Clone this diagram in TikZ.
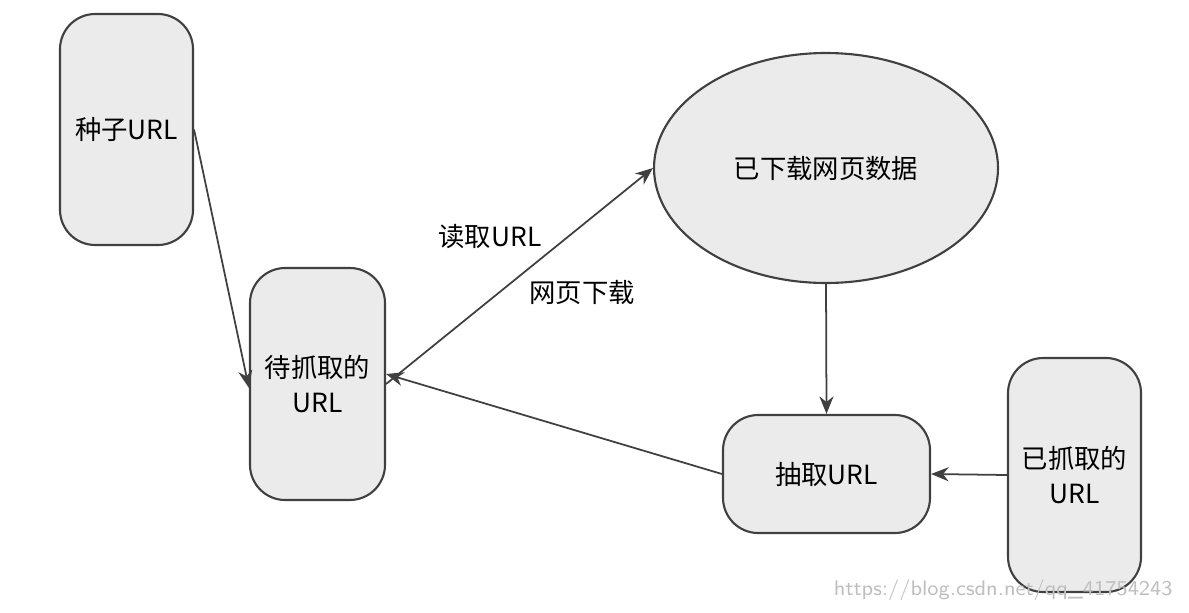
\documentclass[tikz,border=0pt]{standalone}
\usepackage{fontspec}
\setmainfont{Liberation Serif}
\newfontfamily\cjk{Noto Sans CJK SC}
\usetikzlibrary{arrows.meta,shapes.geometric}
\begin{document}
\begin{tikzpicture}[x=0.01cm,y=-0.01cm,
  box/.style={draw=black!75,fill=black!8,rounded corners=10pt,line width=0.6pt,align=center,font=\fontsize{7.5}{10}\selectfont\cjk},
  arr/.style={draw=black!75,line width=0.5pt,-{Stealth[length=5pt,width=4pt]}},
  lab/.style={font=\fontsize{7.5}{10}\selectfont\cjk}]
\useasboundingbox (0,0) rectangle (1189,612);
\node[box,minimum width=133*0.01cm,minimum height=231*0.01cm] (seed) at (126.5,129.5) {种子URL};
\node[box,minimum width=135*0.01cm,minimum height=232*0.01cm] (todo) at (317.5,384) {待抓取的\\URL};
\node[draw=black!75,fill=black!8,line width=0.6pt,ellipse,minimum width=344*0.01cm,minimum height=230*0.01cm,inner sep=0pt,font=\fontsize{7.5}{10}\selectfont\cjk] (data) at (826,168) {已下载网页数据};
\node[box,minimum width=207*0.01cm,minimum height=118*0.01cm] (ext) at (826.5,474) {抽取URL};
\node[box,minimum width=133*0.01cm,minimum height=234*0.01cm] (done) at (1074.5,475) {已抓取的\\URL};
\draw[arr] (seed.east) -- ([yshift=-4*0.01cm]todo.west);
\draw[arr] (todo.east) -- (data.west);
\draw[arr] (ext.west) -- ([yshift=10*0.01cm]todo.east);
\draw[arr] (data.south) -- (ext.north);
\draw[arr] (done.west) -- (ext.east);
\node[lab] (l1) at (490,237) {读取URL};
\node[lab] (l2) at (582,292) {网页下载};
\node[font=\fontsize{6}{7}\selectfont\sffamily,text=black!25,anchor=east] (wm) at (1185,590) {https://blog.csdn.net/qq\_41754243};
\end{tikzpicture}
\end{document}
